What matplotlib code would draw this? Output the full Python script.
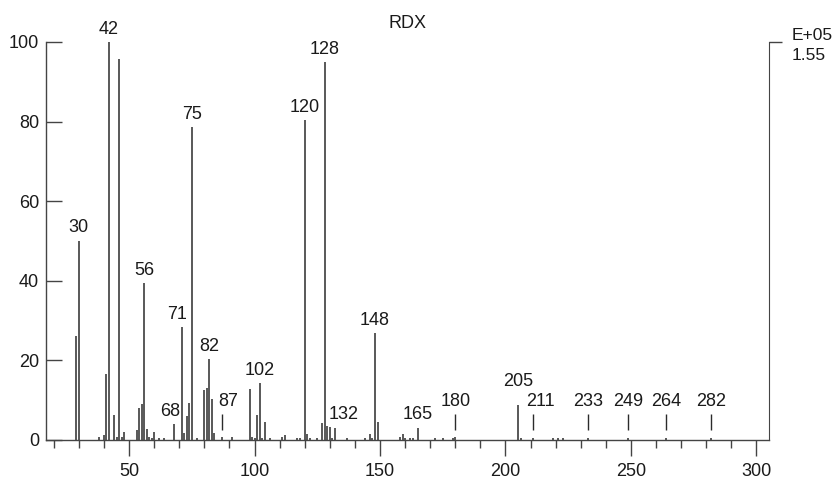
import matplotlib
matplotlib.use("Agg")
import matplotlib.pyplot as plt
from matplotlib.ticker import FixedLocator, MultipleLocator

plt.rcParams["font.family"] = ["Liberation Sans", "DejaVu Sans"]

# mass spectrum of RDX (relative intensity, %)
mz = [29, 30, 38, 40, 41, 42, 44, 45, 46, 47, 48, 53, 54, 55, 56, 57, 58, 59,
      60, 62, 64, 68, 71, 72, 73, 74, 75, 77, 80, 81, 82, 83, 84, 87, 91,
      98, 99, 100, 101, 102, 103, 104, 106, 111, 112, 117, 118, 120, 121, 122,
      125, 127, 128, 129, 130, 131, 132, 137, 144, 146, 147, 148, 149,
      158, 159, 160, 162, 163, 165, 172, 175, 179, 180, 205, 206, 211,
      219, 221, 223, 233, 249, 264, 282]
intensity = [26.2, 50.1, 0.8, 1.2, 16.5, 100, 6.3, 0.7, 95.7, 0.7, 1.9, 2.5, 8.0, 9.0, 39.4, 2.8, 0.7, 0.4,
             2.1, 0.6, 0.6, 4.0, 28.3, 1.8, 6.0, 9.2, 78.6, 0.6, 12.5, 13.0, 20.3, 10.3, 1.7, 0.7, 0.8,
             12.7, 0.8, 0.6, 6.4, 14.2, 0.4, 4.4, 0.4, 0.8, 1.2, 0.4, 0.6, 80.4, 1.4, 0.4,
             0.6, 4.2, 94.9, 3.5, 3.2, 0.6, 3.1, 0.6, 0.6, 1.5, 0.5, 26.8, 4.5,
             0.8, 1.4, 0.6, 0.4, 0.5, 3.1, 0.4, 0.5, 0.5, 0.8, 8.8, 0.5, 0.5,
             0.5, 0.5, 0.4, 0.4, 0.4, 0.4, 0.4]

# labelled peaks
labels = [30, 42, 56, 68, 71, 75, 82, 87, 102, 120, 128, 132, 148, 165,
          180, 205, 211, 233, 249, 264, 282]
# weak peaks flagged with a short marker line above the baseline
flagged = [87, 180, 211, 233, 249, 264, 282]
flag_lo, flag_hi = 2.5, 6.5

xticks_major = [50, 100, 150, 200, 250, 300]
yticks = [0, 20, 40, 60, 80, 100]
scale_text = "E+05\n1.55"

# label nudges in points (dx, dy)
nudge = {68: (-3, 0), 71: (-3.5, 0), 87: (4.5, 0), 132: (6.5, 0),
         211: (5, 0), 205: (0, 8)}

ink = "#2b2b2b"
fs = 13

fig = plt.figure(figsize=(8.35, 4.8), dpi=100)
ax = fig.add_axes([46 / 835, 40 / 480, (769 - 46) / 835, (440 - 42) / 480])

ax.vlines(mz, 0, intensity, color=ink, lw=1.1)
ax.vlines(flagged, flag_lo, flag_hi, color=ink, lw=1.0)

height = dict(zip(mz, intensity))
for m in labels:
    top = flag_hi if m in flagged else height[m]
    dx, dy = nudge.get(m, (0, 0))
    ax.annotate(str(m), (m, top), xytext=(dx, 6 + dy), textcoords="offset points",
                ha="center", va="baseline", fontsize=fs, color="#1a1a1a",
                annotation_clip=False)

ax.set_xlim(16.9, 305)
ax.set_ylim(0, 100)

ax.spines["top"].set_visible(False)
ax.spines["right"].set_visible(False)
for s in ("left", "bottom"):
    ax.spines[s].set_color("#444444")
    ax.spines[s].set_linewidth(1.0)

ax.xaxis.set_major_locator(FixedLocator(xticks_major))
ax.xaxis.set_minor_locator(MultipleLocator(10))
ax.set_yticks(yticks)
ax.tick_params(axis="x", which="major", direction="out", length=11.5, width=1.0,
               color="#444444", pad=5, labelsize=fs, labelcolor="#1a1a1a")
ax.tick_params(axis="x", which="minor", direction="out", length=5.5, width=1.0,
               color="#444444")
ax.tick_params(axis="y", direction="in", length=11.5, width=1.0, color="#444444",
               pad=5, labelsize=fs, labelcolor="#1a1a1a")

ax2 = ax.twinx()
ax2.set_ylim(0, 100)
for s in ("left", "top", "bottom"):
    ax2.spines[s].set_visible(False)
ax2.spines["right"].set_color("#444444")
ax2.set_yticks([100])
ax2.set_yticklabels([scale_text], linespacing=1.4)
ax2.tick_params(axis="y", direction="out", length=9.5, width=1.0, color="#444444",
                pad=6.5, labelsize=12.5, labelcolor="#1a1a1a")

ax.set_title("RDX", fontsize=fs, pad=10, color="#1a1a1a")

fig.savefig("out.png", dpi=100)
